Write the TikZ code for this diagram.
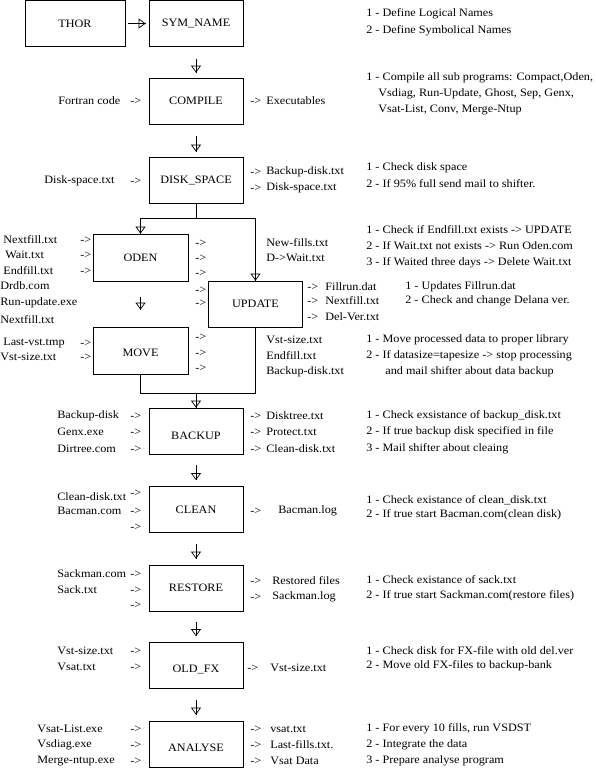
\documentclass[tikz,border=0pt]{standalone}
\usepackage{fontspec}
\setmainfont[FakeStretch=1.08]{Liberation Serif}
\usetikzlibrary{arrows.meta}
\begin{document}
\begin{tikzpicture}[x=1pt,y=-1pt, font=\fontsize{11.3}{13}\selectfont, line width=0.7pt,
  box/.style={draw, minimum width=94pt, minimum height=46pt, inner sep=0pt},
  txt/.style={anchor=west, inner sep=0pt},
  boxlab/.style={inner sep=0pt},
  flow/.style={postaction={draw,-{Triangle[open,length=7pt,width=10pt]}}}]
\useasboundingbox (0,0) rectangle (596,768);
% boxes
\node[box, minimum width=100pt] (thor) at (75,23.5) {THOR};
\node[box] (sym) at (196,23.5) {SYM\_NAME};
\node[box] (comp) at (196,101) {COMPILE};
\node[box] (disk) at (196,180) {DISK\_SPACE};
\node[box, minimum width=95pt, minimum height=47pt] (oden) at (140.5,257.5) {ODEN};
\node[box] (upd) at (255.5,304) {UPDATE};
\node[box, minimum width=95pt, minimum height=47pt] (move) at (140.5,350.5) {};
\node[boxlab] (movel) at ([yshift=-2pt]move.center) {MOVE};
\node[box] (backup) at (196,431) {};
\node[boxlab] (backupl) at ([yshift=-5pt]backup.center) {BACKUP};
\node[box] (clean) at (196,509.5) {CLEAN};
\node[box] (restore) at (196,588) {RESTORE};
\node[box] (oldfx) at (196,665.5) {};
\node[boxlab] (oldfxl) at ([yshift=-4pt]oldfx.center) {OLD\_FX};
\node[box] (analyse) at (196,744) {};
\node[boxlab] (analysel) at ([yshift=-4pt]analyse.center) {ANALYSE};
% connectors
\draw[flow] ([xshift=3pt]thor.east) -- ([xshift=-3pt]sym.west);
\draw[flow] ([yshift=-12pt]sym.south) -- ([yshift=5pt]comp.north);
\draw[flow] ([yshift=-12pt]comp.south) -- ([yshift=5pt]disk.north);
\coordinate (sp) at (196,218);
\draw (disk.south) -- (sp);
\draw[flow] (sp) -| (oden.north);
\draw[flow] (sp) -| (upd.north);
\draw[flow] ([yshift=-16pt]oden.south) -- ([yshift=17pt]move.north);
\coordinate (mg) at (196,393);
\draw (move.south) |- (mg);
\draw (upd.south) |- (mg);
\draw[flow] (mg) -- (backup.north);
\draw[flow] ([yshift=-11pt]backup.south) -- ([yshift=6pt]clean.north);
\draw[flow] ([yshift=-11pt]clean.south) -- ([yshift=6pt]restore.north);
\draw[flow] ([yshift=-11pt]restore.south) -- ([yshift=6pt]oldfx.north);
\draw[flow] ([yshift=-11pt]oldfx.south) -- ([yshift=6pt]analyse.north);
% texts
\foreach \x/\y/\t [count=\i] in {
 366/14/{1 - Define Logical Names},
 366/31/{2 - Define Symbolical Names},
 366/78/{1 - Compile all sub programs: Compact,Oden,},
 378/94/{Vsdiag, Run-Update, Ghost, Sep, Genx,},
 378/110/{Vsat-List, Conv, Merge-Ntup},
 58/101/{Fortran code}, 130/101/{->}, 250/101/{->}, 266/101/{Executables},
 44/181/{Disk-space.txt}, 130/181/{->},
 250/172/{->}, 266/172/{Backup-disk.txt}, 250/188/{->}, 266/188/{Disk-space.txt},
 366/168/{1 - Check disk space}, 366/184/{2 - If 95\% full send mail to shifter.},
 3/240/{Nextfill.txt}, 5/255/{Wait.txt}, 3/271/{Endfill.txt},
 80/240/{->}, 80/255/{->}, 80/271/{->},
 195/243/{->}, 195/258/{->}, 195/273/{->},
 266/243/{New-fills.txt}, 266/258/{D->Wait.txt},
 366/230/{1 - Check if Endfill.txt exists -> UPDATE},
 366/246/{2 - If Wait.txt not exists -> Run Oden.com},
 366/263/{3 - If Waited three days -> Delete Wait.txt},
 0/286/{Drdb.com}, 0/303/{Run-update.exe}, 0/320/{Nextfill.txt},
 195/290/{->}, 195/303/{->},
 307/287/{->}, 325/287/{Fillrun.dat}, 307/301/{->}, 325/301/{Nextfill.txt},
 307/317/{->}, 325/317/{Del-Ver.txt},
 405/287/{1 - Updates Fillrun.dat}, 405/301/{2 - Check and change Delana ver.},
 3/343/{Last-vst.tmp}, 0/357/{Vst-size.txt}, 80/343/{->}, 80/357/{->},
 195/337/{->}, 195/353/{->}, 195/368/{->},
 266/340/{Vst-size.txt}, 266/356/{Endfill.txt}, 266/372/{Backup-disk.txt},
 366/340/{1 - Move processed data to proper library},
 366/356/{2 - If datasize=tapesize -> stop processing},
 385/372/{and mail shifter about data backup},
 57/416/{Backup-disk}, 57/432/{Genx.exe}, 57/449/{Dirtree.com},
 130/416/{->}, 130/432/{->}, 130/449/{->},
 250/416/{->}, 250/432/{->}, 250/449/{->},
 266/416/{Disktree.txt}, 266/432/{Protect.txt}, 266/449/{Clean-disk.txt},
 366/416/{1 - Check exsistance of backup\_disk.txt},
 366/432/{2 - If true backup disk specified in file},
 366/449/{3 - Mail shifter about cleaing},
 57/497/{Clean-disk.txt}, 130/493/{->}, 57/511/{Bacman.com}, 130/511/{->}, 130/527/{->},
 250/511/{->}, 278/511/{Bacman.log},
 366/500/{1 - Check existance of clean\_disk.txt},
 366/515/{2 - If true start Bacman.com(clean disk)},
 57/574/{Sackman.com}, 130/574/{->}, 57/590/{Sack.txt}, 130/590/{->}, 130/605/{->},
 250/581/{->}, 272/581/{Restored files}, 250/597/{->}, 272/597/{Sackman.log},
 366/580/{1 - Check existance of sack.txt},
 366/596/{2 - If true start Sackman.com(restore files)},
 57/651/{Vst-size.txt}, 130/651/{->}, 57/667/{Vsat.txt}, 130/667/{->},
 247/668/{->}, 270/668/{Vst-size.txt},
 366/651/{1 - Check disk for FX-file with old del.ver},
 366/666/{2 - Move old FX-files to backup-bank},
 37/729/{Vsat-List.exe}, 37/745/{Vsdiag.exe}, 37/761/{Merge-ntup.exe},
 130/729/{->}, 130/745/{->}, 130/761/{->},
 250/729/{->}, 250/745/{->}, 250/761/{->},
 270/729/{vsat.txt}, 270/745/{Last-fills.txt.}, 270/761/{Vsat Data},
 366/729/{1 - For every 10 fills, run VSDST},
 366/745/{2 - Integrate the data},
 366/761/{3 - Prepare analyse program}}
 \node[txt] (t\i) at (\x,\y) {\t};
\end{tikzpicture}
\end{document}
